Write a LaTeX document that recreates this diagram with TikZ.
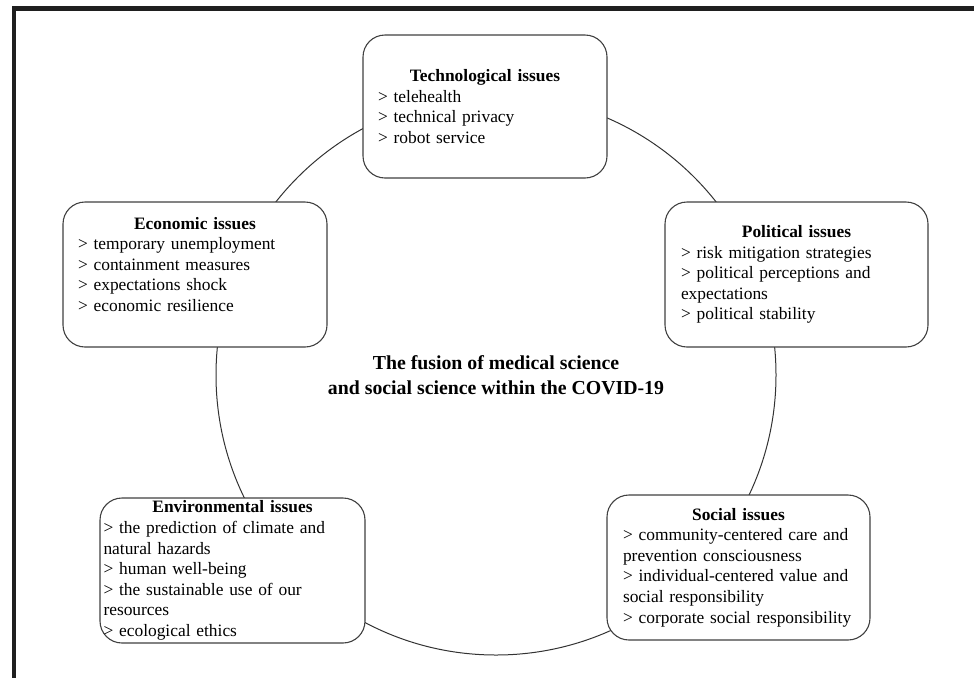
\documentclass[tikz,border=0pt]{standalone}
\usepackage{fontspec}
\setmainfont{Liberation Serif}
\usetikzlibrary{positioning}

\begin{document}
\begin{tikzpicture}[
      x=1pt,y=-1pt,
      every node/.style={font=\fontsize{17.4}{20.6}\selectfont},
      issue/.style={draw=black!75,line width=1.1pt,rounded corners=22pt,fill=white,
                    align=left,inner xsep=15pt,inner ysep=0pt},
      ring/.style={circle,draw=black!80,line width=1pt,minimum size=560pt,inner sep=0pt,
                   align=center,font=\fontsize{19.8}{25}\selectfont\bfseries},
      frame/.style={fill=black!88},
    ]
  \useasboundingbox (0,0) rectangle (974,678);
  \fill[frame] (12,6) rectangle (974,11);
  \fill[frame] (12,6) rectangle (15.5,678);

  \node[ring] (ring) at (496,375) {The fusion of medical science\\and social science within the COVID-19};

  \node[issue,minimum width=244pt,minimum height=143pt,text width=214pt] (tech) at (485,106.5)
    {{\centering\textbf{Technological issues}\par}
     > telehealth\\> technical privacy\\> robot service};
  \node[issue,minimum width=264pt,minimum height=145pt,text width=234pt] (econ) at (195,274.5)
    {{\centering\textbf{Economic issues}\par}
     > temporary unemployment\\> containment measures\\> expectations shock\\> economic resilience\\ \mbox{}};
  \node[issue,minimum width=263pt,minimum height=145pt,inner xsep=16pt,text width=231pt] (poli) at (796.5,274.5)
    {{\centering\textbf{Political issues}\par}
     > risk mitigation strategies\\> political perceptions and\\expectations\\> political stability};
  \node[issue,minimum width=265pt,minimum height=145pt,inner xsep=3.5pt,text width=258pt] (envi) at (232.5,570.5)
    {{\centering\textbf{Environmental issues}\par}
     > the prediction of climate and\\natural hazards\\> human well-being\\> the sustainable use of our\\resources\\> ecological ethics};
  \node[issue,minimum width=263pt,minimum height=145pt,inner xsep=16pt,text width=231pt] (soci) at (738.5,567.5)
    {{\centering\textbf{Social issues}\par}
     > community-centered care and\\prevention consciousness\\> individual-centered value and\\social responsibility\\> corporate social responsibility};
\end{tikzpicture}
\end{document}
